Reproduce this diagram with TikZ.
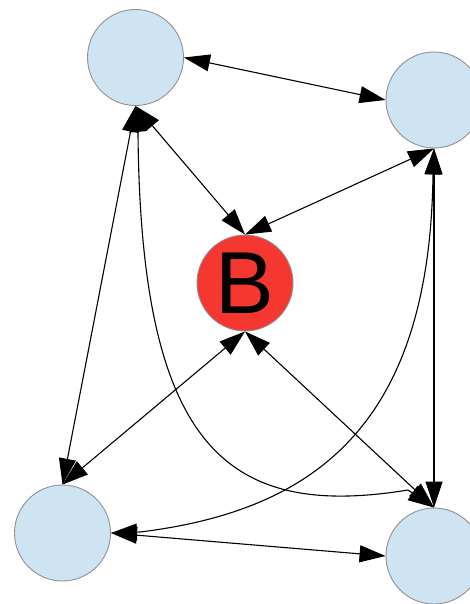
\documentclass[tikz,border=0pt]{standalone}
\usepackage{fontspec}
\newfontfamily\arialf{Liberation Sans}
\usetikzlibrary{arrows.meta}
\definecolor{nodeblue}{RGB}{207,228,242}
\definecolor{nodered}{RGB}{245,55,50}
\definecolor{rimgray}{RGB}{145,145,145}
\tikzset{
  bubble/.style={circle, draw=rimgray, line width=0.9pt, fill=nodeblue, minimum size=96pt, inner sep=0pt},
  hub/.style={circle, draw=rimgray, line width=0.9pt, fill=nodered, minimum size=96pt, inner sep=0pt, font=\arialf\fontsize{88}{88}\selectfont},
  link/.style={draw=black, line width=1.1pt, {Triangle[length=26pt,width=17pt]}-{Triangle[length=26pt,width=17pt]}}
}
\begin{document}
\begin{tikzpicture}[x=1pt,y=-1pt]
\useasboundingbox (0,0) rectangle (470,604);
\clip (0,0) rectangle (470,604);
\fill[white] (0,0) rectangle (470,604);
\node[bubble] (tl) at (135.5,57.5) {};
\node[bubble] (tr) at (434,100) {};
\node[hub] (b) at (245,283) {B};
\node[bubble] (bl) at (62.5,533) {};
\node[bubble] (br) at (434,556) {};
\draw[link] (tl.east) -- (tr.west);
\draw[link] (tl.south) -- (b.north);
\draw[link] (tr.south) -- (b.north);
\draw[link] (tl.south) -- (bl.north);
\draw[link] (b.south) -- (bl.north);
\draw[link] (b.south) -- (br.north);
\draw[link] (tr.south) -- (br.north);
\draw[link] (bl.east) -- (br.west);
\draw[link] (tl.south) -- (138,134) .. controls (141,445) and (225,520) .. (408,490) -- (br.north);
\draw[link] (tr.south) -- (433,174) .. controls (430,420) and (320,510) .. (140,532) -- (bl.east);
\end{tikzpicture}
\end{document}
